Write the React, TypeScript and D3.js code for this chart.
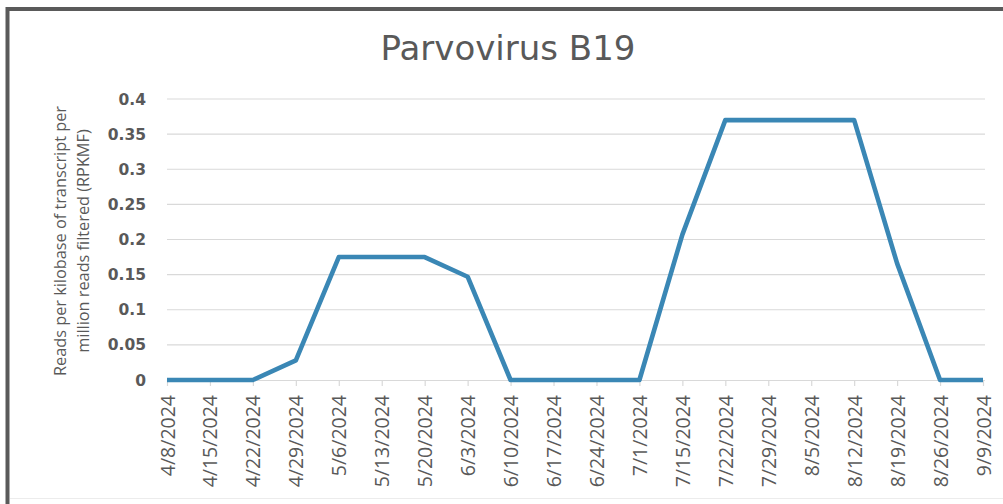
import { useEffect, useRef } from "react";
import * as d3 from "d3";

const categories = [
  "4/8/2024", "4/15/2024", "4/22/2024", "4/29/2024", "5/6/2024", "5/13/2024",
  "5/20/2024", "6/3/2024", "6/10/2024", "6/17/2024", "6/24/2024", "7/1/2024",
  "7/15/2024", "7/22/2024", "7/29/2024", "8/5/2024", "8/12/2024", "8/19/2024",
  "8/26/2024", "9/9/2024",
];
const values = [
  0, 0, 0, 0.028, 0.175, 0.175, 0.175, 0.147, 0, 0, 0, 0,
  0.207, 0.37, 0.37, 0.37, 0.37, 0.166, 0, 0,
];
const yTicks = [0, 0.05, 0.1, 0.15, 0.2, 0.25, 0.3, 0.35, 0.4];

const App = () => {
  const svgRef = useRef<SVGSVGElement>(null);

  useEffect(() => {
    const W = 1003, H = 504;
    const left = 167, right = 983, top = 99, bottom = 380;
    const svg = d3.select(svgRef.current);
    svg.selectAll("*").remove();
    svg.attr("width", W).attr("height", H);

    svg.append("rect").attr("width", W).attr("height", H).attr("fill", "#fff");

    // frame (only top & left are visible in the crop)
    svg.append("path")
      .attr("d", `M7.5,${H} V9 H${W}`)
      .attr("fill", "none")
      .attr("stroke", "#5a5a5a")
      .attr("stroke-width", 4);
    svg.append("line")
      .attr("x1", 10).attr("x2", W).attr("y1", 498.5).attr("y2", 498.5)
      .attr("stroke", "#ececec");

    const x = d3.scalePoint<string>().domain(categories).range([left, right]);
    const y = d3.scaleLinear().domain([0, 0.4]).range([bottom, top]);

    // gridlines
    svg.append("g")
      .selectAll("line")
      .data(yTicks.slice(1))
      .join("line")
      .attr("x1", left)
      .attr("x2", right + 2)
      .attr("y1", d => y(d))
      .attr("y2", d => y(d))
      .attr("stroke", "#d9d9d9")
      .attr("stroke-width", 1.2);

    // x axis
    const xAxis = svg.append("g")
      .attr("transform", `translate(0,${bottom})`)
      .call(d3.axisBottom(x).tickSize(6).tickPadding(6));
    xAxis.select(".domain").attr("stroke", "#d9d9d9").attr("stroke-width", 1.2)
      .attr("d", `M${left},0.5H${right + 2}`);
    xAxis.selectAll(".tick line").attr("stroke", "#d9d9d9").attr("stroke-width", 1.2);
    xAxis.selectAll<SVGTextElement, string>(".tick text")
      .attr("transform", "rotate(-90)")
      .attr("x", -15)
      .attr("y", 0)
      .attr("dy", "0.36em")
      .attr("text-anchor", "end")
      .attr("fill", "#595959")
      .style("font-family", "'Open Sans', sans-serif")
      .style("font-size", "19.5px");

    // y axis labels
    svg.append("g")
      .selectAll("text")
      .data(yTicks)
      .join("text")
      .attr("x", 146)
      .attr("y", d => y(d))
      .attr("dy", "0.36em")
      .attr("text-anchor", "end")
      .attr("fill", "#595959")
      .style("font-family", "'DejaVu Sans', sans-serif")
      .style("font-size", "15.5px")
      .style("font-weight", "bold")
      .text(d => String(d));

    // series line
    const line = d3.line<number>()
      .x((_, i) => x(categories[i]) as number)
      .y(d => y(d));
    svg.append("path")
      .datum(values)
      .attr("d", line)
      .attr("fill", "none")
      .attr("stroke", "#3a87b5")
      .attr("stroke-width", 4.6)
      .attr("stroke-linejoin", "round");

    // title
    svg.append("text")
      .attr("x", 508)
      .attr("y", 60)
      .attr("text-anchor", "middle")
      .attr("fill", "#595959")
      .style("font-family", "'DejaVu Sans', sans-serif")
      .style("font-size", "34px")
      .text("Parvovirus B19");

    // y axis title
    const yt = svg.append("text")
      .attr("transform", `translate(0,241) rotate(-90)`)
      .attr("text-anchor", "middle")
      .attr("fill", "#595959")
      .style("font-family", "'Open Sans', sans-serif")
      .style("font-size", "16.3px");
    yt.append("tspan").attr("x", 0).attr("y", 66).text("Reads per kilobase of transcript per");
    yt.append("tspan").attr("x", 0).attr("y", 89).text("million reads filtered (RPKMF)");
  }, []);

  return (
    <div style={{ position: "absolute", left: 0, top: 0 }}>
      <svg ref={svgRef} style={{ display: "block" }}></svg>
    </div>
  );
};

export default App;
